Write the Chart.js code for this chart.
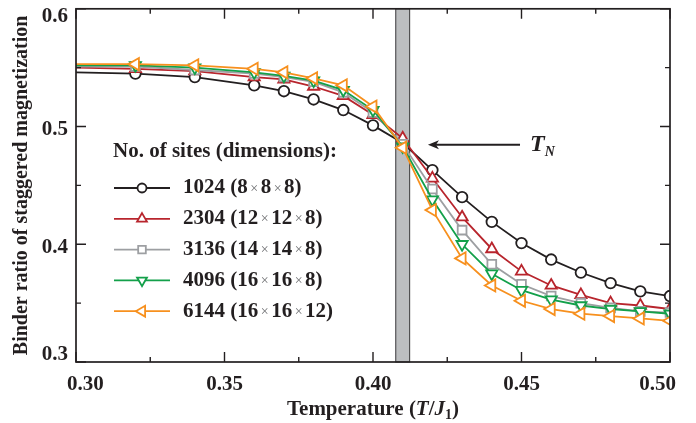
<!DOCTYPE html>
<html>
<head>
<meta charset="utf-8">
<script src="https://cdn.jsdelivr.net/npm/chart.js@4.4.1/dist/chart.umd.min.js"></script>
<style>
  html, body { margin: 0; padding: 0; background: #fff; }
  #wrap { position: relative; width: 696px; height: 423px; }
</style>
</head>
<body>
<div id="wrap"><canvas id="chart" width="696" height="423"></canvas></div>
<script>
// ── Data ────────────────────────────────────────────────────
const temps = [0.30, 0.32, 0.34, 0.36, 0.37, 0.38, 0.39, 0.40, 0.41, 0.42, 0.43, 0.44, 0.45, 0.46, 0.47, 0.48, 0.49, 0.50];

const sites1024 = [0.546, 0.545, 0.542, 0.535, 0.530, 0.523, 0.514, 0.501, 0.486, 0.463, 0.440, 0.419, 0.401, 0.387, 0.376, 0.367, 0.360, 0.356];
const sites2304 = [0.550, 0.549, 0.547, 0.542, 0.540, 0.534, 0.526, 0.510, 0.490, 0.456, 0.423, 0.396, 0.377, 0.365, 0.357, 0.350, 0.348, 0.345];
const sites3136 = [0.551, 0.551, 0.548, 0.545, 0.542, 0.538, 0.529, 0.512, 0.485, 0.447, 0.412, 0.383, 0.366, 0.356, 0.350, 0.346, 0.343, 0.342];
const sites4096 = [0.552, 0.552, 0.550, 0.546, 0.543, 0.539, 0.531, 0.514, 0.483, 0.438, 0.400, 0.375, 0.361, 0.353, 0.348, 0.345, 0.343, 0.341];
const sites6144 = [0.553, 0.553, 0.552, 0.549, 0.546, 0.541, 0.535, 0.517, 0.482, 0.429, 0.388, 0.365, 0.352, 0.345, 0.341, 0.339, 0.337, 0.335];

const siteCounts = ['1024', '2304', '3136', '4096', '6144'];
const siteDims = [['8', '8', '8'], ['12', '12', '8'], ['14', '14', '8'], ['16', '16', '8'], ['16', '16', '12']];

const xMajorTicks = [0.30, 0.35, 0.40, 0.45, 0.50];
const xMinorTicks = [0.325, 0.375, 0.425, 0.475];
const xTickLabels = ['0.30', '0.35', '0.40', '0.45', '0.50'];
const yMajorTicks = [0.3, 0.4, 0.5, 0.6];
const yMinorTicks = [0.35, 0.45, 0.55];
const yTickLabels = ['0.3', '0.4', '0.5', '0.6'];

// Néel temperature band and arrow (data units)
const tnBand = [0.4075, 0.4125];
const tnArrow = { from: 0.4495, to: 0.4185, y: 0.4845 };

// ── Style ───────────────────────────────────────────────────
const INK = '#231f20';
const SERIF = '"Liberation Serif", "Times New Roman", serif';
const COLORS = ['#231f20', '#b8252d', '#9d9fa2', '#13a04a', '#f7901e'];
const STYLES = [
  { pointStyle: 'circle', rot: 0, r: 5.3 },
  { pointStyle: 'triangle', rot: 0, r: 6.5 },
  { pointStyle: 'rect', rot: 0, r: 6.2 },
  { pointStyle: 'triangle', rot: 180, r: 6.5 },
  { pointStyle: 'triangle', rot: 270, r: 7 },
];
const SERIES = [sites1024, sites2304, sites3136, sites4096, sites6144];

const datasets = SERIES.map((vals, i) => ({
  label: siteCounts[i],
  data: temps.map((t, j) => ({ x: t, y: vals[j] })),
  borderColor: COLORS[i],
  backgroundColor: '#fff',
  borderWidth: 1.8,
  pointStyle: STYLES[i].pointStyle,
  pointRotation: STYLES[i].rot,
  pointRadius: ctx => (ctx.dataIndex === 0 ? 0 : STYLES[i].r),
  pointBorderWidth: 1.8,
  pointBorderColor: COLORS[i],
  pointBackgroundColor: '#fff',
  tension: 0,
  order: 5 - i,
}));

// ── Drawing helpers ─────────────────────────────────────────
function drawRuns(ctx, runs, x, y, align) {
  let total = 0;
  runs.forEach(r => { ctx.font = r.font; total += ctx.measureText(r.t).width + (r.gap || 0) * 2; });
  let cx = align === 'center' ? x - total / 2 : x;
  ctx.textAlign = 'left';
  ctx.textBaseline = 'middle';
  runs.forEach(r => {
    ctx.font = r.font;
    ctx.fillStyle = r.color || INK;
    cx += r.gap || 0;
    ctx.fillText(r.t, cx, y + (r.dy || 0));
    cx += ctx.measureText(r.t).width + (r.gap || 0);
  });
}

function marker(ctx, style, color, x, y, r) {
  ctx.save();
  ctx.strokeStyle = color;
  ctx.fillStyle = '#fff';
  ctx.lineWidth = 1.8;
  if (Chart.helpers && Chart.helpers.drawPoint) {
    Chart.helpers.drawPoint(ctx, { pointStyle: style.pointStyle, rotation: style.rot, radius: r, borderWidth: 1.8 }, x, y);
  }
  ctx.restore();
}

const tnBandPlugin = {
  id: 'tnBand',
  beforeDatasetsDraw(chart) {
    const { ctx, chartArea: a, scales: { x } } = chart;
    const x1 = x.getPixelForValue(tnBand[0]);
    const x2 = x.getPixelForValue(tnBand[1]);
    ctx.save();
    ctx.fillStyle = '#bcbec0';
    ctx.fillRect(x1, a.top, x2 - x1, a.bottom - a.top);
    ctx.strokeStyle = '#414042';
    ctx.lineWidth = 1;
    ctx.strokeRect(x1 + 0.5, a.top, x2 - x1 - 1, a.bottom - a.top);
    ctx.restore();
  },
};

const framePlugin = {
  id: 'frame',
  afterDraw(chart) {
    const { ctx, chartArea: a, scales: { x, y } } = chart;
    ctx.save();
    ctx.strokeStyle = INK;
    ctx.lineWidth = 1.7;
    ctx.strokeRect(a.left, a.top, a.right - a.left, a.bottom - a.top);

    // inward ticks on all four sides
    ctx.lineWidth = 1.4;
    ctx.beginPath();
    const xt = (v, len) => {
      const px = x.getPixelForValue(v);
      ctx.moveTo(px, a.bottom); ctx.lineTo(px, a.bottom - len);
      ctx.moveTo(px, a.top); ctx.lineTo(px, a.top + len);
    };
    const yt = (v, len) => {
      const py = y.getPixelForValue(v);
      ctx.moveTo(a.left, py); ctx.lineTo(a.left + len, py);
      ctx.moveTo(a.right, py); ctx.lineTo(a.right - len, py);
    };
    xMajorTicks.forEach(v => xt(v, 10));
    xMinorTicks.forEach(v => xt(v, 5));
    yMajorTicks.forEach(v => yt(v, 10));
    yMinorTicks.forEach(v => yt(v, 5));
    ctx.stroke();

    // tick labels
    ctx.fillStyle = INK;
    ctx.font = 'bold 21px ' + SERIF;
    ctx.textBaseline = 'middle';
    ctx.textAlign = 'center';
    xMajorTicks.forEach((v, i) => {
      const w = ctx.measureText(xTickLabels[i]).width;
      let px = x.getPixelForValue(v);
      px = Math.max(67 + w / 2, Math.min(676 - w / 2, px));
      ctx.fillText(xTickLabels[i], px, a.bottom + 23);
    });
    ctx.textAlign = 'right';
    yMajorTicks.forEach((v, i) => {
      let py = y.getPixelForValue(v) + 3;
      py = Math.max(a.top + 8, Math.min(a.bottom - 7, py));
      ctx.fillText(yTickLabels[i], a.left - 8, py);
    });

    // axis titles
    const B = 'bold 21px ' + SERIF, BI = 'italic bold 21px ' + SERIF, S = 'bold 14px ' + SERIF;
    drawRuns(ctx, [
      { t: 'Temperature (', font: B },
      { t: 'T', font: BI },
      { t: '/', font: B },
      { t: 'J', font: BI },
      { t: '1', font: S, dy: 5 },
      { t: ')', font: B },
    ], (a.left + a.right) / 2, 410, 'center');

    ctx.save();
    ctx.translate(22, (a.top + a.bottom) / 2);
    ctx.rotate(-Math.PI / 2);
    ctx.font = 'bold 20px ' + SERIF;
    ctx.textAlign = 'center';
    ctx.textBaseline = 'middle';
    ctx.fillText('Binder ratio of staggered magnetization', 0, 0);
    ctx.restore();

    // T_N arrow
    const ay = y.getPixelForValue(tnArrow.y);
    const ax1 = x.getPixelForValue(tnArrow.from);
    const ax2 = x.getPixelForValue(tnArrow.to);
    ctx.strokeStyle = INK;
    ctx.lineWidth = 2;
    ctx.beginPath();
    ctx.moveTo(ax1, ay); ctx.lineTo(ax2 + 8, ay);
    ctx.stroke();
    ctx.fillStyle = INK;
    ctx.beginPath();
    ctx.moveTo(ax2, ay);
    ctx.lineTo(ax2 + 11, ay - 4.5);
    ctx.lineTo(ax2 + 8, ay);
    ctx.lineTo(ax2 + 11, ay + 4.5);
    ctx.closePath();
    ctx.fill();
    drawRuns(ctx, [
      { t: 'T', font: 'italic bold 24px ' + SERIF },
      { t: 'N', font: 'italic bold 14px ' + SERIF, dy: 8 },
    ], ax1 + 10, ay, 'left');

    // legend
    drawRuns(ctx, [{ t: 'No. of sites (dimensions):', font: B }], 113, 152, 'left');
    siteCounts.forEach((n, i) => {
      const ly = 188 + i * 30.8;
      ctx.strokeStyle = COLORS[i];
      ctx.lineWidth = 1.8;
      ctx.beginPath();
      ctx.moveTo(114, ly); ctx.lineTo(170, ly);
      ctx.stroke();
      marker(ctx, STYLES[i], COLORS[i], 142, ly, STYLES[i].r - 0.8);
      const d = siteDims[i];
      const X = { t: '×', font: '14px ' + SERIF, color: '#6d6e71', gap: 2.5, dy: 1 };
      drawRuns(ctx, [
        { t: n + ' (' + d[0], font: B }, X,
        { t: d[1], font: B }, X,
        { t: d[2] + ')', font: B },
      ], 183, ly, 'left');
    });
    ctx.restore();
  },
};

new Chart(document.getElementById('chart'), {
  type: 'line',
  data: { datasets },
  options: {
    responsive: false,
    animation: false,
    layout: { padding: { left: 76, top: 5, right: 26, bottom: 61 } },
    plugins: { legend: { display: false }, tooltip: { enabled: false } },
    scales: {
      x: {
        type: 'linear', min: 0.3, max: 0.5,
        ticks: { display: false }, grid: { display: false }, border: { display: false },
        afterFit(s) { s.height = 0; },
      },
      y: {
        type: 'linear', min: 0.3, max: 0.6,
        ticks: { display: false }, grid: { display: false }, border: { display: false },
        afterFit(s) { s.width = 0; },
      },
    },
  },
  plugins: [tnBandPlugin, framePlugin],
});
</script>
</body>
</html>
